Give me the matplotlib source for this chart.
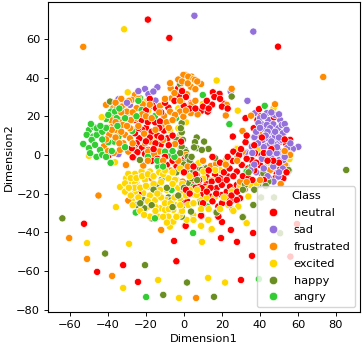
import numpy as np
import matplotlib
matplotlib.use('Agg')
import matplotlib.pyplot as plt
from matplotlib.lines import Line2D

# puntos leidos a ojo de la figura, (dim1, dim2) por clase
neutral = [(-19,70),(-7.7,60.5),(49.5,56),(-52.6,-35.6),(-32,-57),(-45.7,-60.5),(-24.2,-65.7),(-5.2,-44.5),(-4,-55),
    (30,-64.7),(35.8,-52.2),(19.5,-43),(27.9,-45),(24.7,-38.8),(36.4,-40.4),(0.6,-36.7),(9,-31.6),(18,-32),(20,-34.7),
    (59.5,-35.7),(56,-52.6),
    (-25.8,18.1),(-22.3,18.1),(-15.2,16.9),(-10.5,12.6),(-8.7,8.6),(-23.5,8.6),(-24.9,6),(-22.3,3.5),(-18.7,2.6),
    (-25.8,3.8),(-12.3,5.2),(-2.6,31),(-3,34.5),(-8.2,24.5),(-16.5,25.5),(-0.3,25.9),(-25.8,11.2),(-14.7,24.1),
    (-20.5,0.9),(-24.5,1.4),(-12.6,17.3),(-27.5,3.5),
    (39.5,23.7),(47.3,19.5),(38.7,18.1),(36.7,13.8),(32.4,19),(25.7,9.5),(32.4,6.6),(55.9,7.8),(50.6,6.9),(53.8,5.7),
    (43.8,4.7),(37.4,0.9),(40.6,-0.8),(44.1,-0.8),(25.7,-3.1),(35.7,-6),(30.6,-5.1),(47.6,-7.7),(15.2,32.4),(18.3,31.1),
    (9,22.8),(12.5,22.4),(14.8,26),(21.3,26.4),(-0.1,25.4),(3.8,26.7),(0.3,-1.7),(2.9,-2.2),(-1.5,6.9),(11.7,-6.9),
    (18.7,31.6),(40.2,19.9),(-26.6,-1.3),(-9.1,-5.1),(-4.2,-6.5),(-39.8,-0.3),
    (-24,-20.3),(-0.3,-25),(1.8,-24.1),(0.9,-36.7),(9.3,-31.5),(5.8,-14.1),(-3.9,-6),(7.5,-14.7),(9.3,-17.8),(12,-14.7),
    (-9.1,-5.2),(12,-11.5),(-27,-1.2),(-20.5,0.5),(0.5,-1.7),(3.2,-2.2),
    (11.1,-6.9),(19,-12.1),(23.4,-11.2),(20.7,-13.8),(16.4,-10.3),(11.1,-16.4),(9.3,-20.7),(19.9,-20.7),(17.2,-17.2),
    (14.1,-21.6),(22.5,-19),(24.2,-16.4),(27.8,-8.6),(30.4,-5.2),(46.2,-7.8),(48.8,-9.5),(50.6,-7.4),(26,1.7),(35.6,-2.6),
    (40.9,0),(44.4,-0.9),(52.3,-12.1),(9,-31.4),(18.1,-31.9),(29.5,-22.4),(26,-23.3),(27.8,-23.3),(18.1,-26.7),(47.9,-12.1),
    (40.9,-9.5),(40,-5.2),(33.9,-6.9),(9.3,-17.2),(44.4,-8.6),(19.9,-15.5),(14.6,-13.8),(22.5,-12.9),(27.8,-15.5),(18.1,-12.9),
    (-20,14),(-17,12),(-22,13),(-18,9),(-14,10),(-20,7),(-15,6),(-12,9),(-16,3),(-24,14),(-19,17),(-13,14),(-8,5),(-6,10),
    (-10,-1),(-14,-2),(-17,-3),(-6,-3),(-10,27),(-12,22),(-18,29),(-20,23),(-5,28),(1,30),(-1,33),(3,24),(6,24),(10,25),
    (13,24),(16,30),(19,29),(20,25),(23,24),(12,28),(6,-10),(8,-13),(13,-8),(14,-17),(17,-20),(21,-9),(24,-7),(26,-11),
    (15,-24),(22,-22),(25,-21),(24,-25),(12,-19),(6,-17),(10,-25),(20,-25),(28,-19),(31,-11),(34,-12),(37,-8),(38,-4),
    (33,-2),(29,0),(23,-1),(19,-4),(15,-1),(36,-13),(42,1),(46,3),(41,9),(37,5),(33,10),(30,3),(53,8),(50,-4),(47,-3),
    (54,-9),(42,-13),(44,-3),(1,-18),(3,-20),(0,-9),(5,-6)]
sad = [(5.5,72),(36.5,63.8),(-20.5,34.1),(-14,35),(-18.7,31.4),(-15,28.1),(-34.5,28.8),(-28.4,25.9),(-34.5,0.4),(-16.1,32.8),
    (24.6,32.8),(33.4,28),(37.4,21.6),(40.9,15.9),(44.4,18.1),(47,15.9),(50.6,18.1),(43.6,21.6),(41.8,12.9),(46.2,11.2),
    (49.7,13.8),(52.3,11.2),(36.9,9),(41.5,7.8),(48.8,6),(54.1,3.5),(45,5.2),(35.7,4.3),(31.6,1.4),(47.6,1.4),(51.5,0),
    (43.6,15.5),(47.9,20.7),(51.5,15.5),(40,19),(39.2,16.4),(45.3,13.8),(47.9,9.5),(51.5,7.8),(44.4,8.6),(49.7,2.6),
    (60.2,4.2),(57.3,3.1),(54.3,3.5),(49.4,0.9),(47.6,5.2),(32.7,1.4),(37.1,9.2),(52,11.2),(50.2,-2.6),(45.9,-7.7),(43.2,-2.6),
    (32.1,1.2),(38.3,-14.7),(40.9,-12.1),(42.7,-6.9),(46.2,-1.7),(48.8,0.9),(44.4,-4.3),(49.7,-11.2),(40,-15.5),(52.3,-2.6),
    (42.7,-10.3),(47.1,-13.8),
    (38,12),(42,20),(46,22),(50,21),(53,16),(54,13),(44,12),(48,12),(50,9),(46,7),(42,4),(39,6),(36,1),(41,-2),(47,-6),(52,-7),
    (50,-9),(44,-11),(38,-9),(40,14),(43,10),(56,6),(53,-1),(49,4),(45,1),(37,-5),(35,-8),(42,-7),(-24,33),(-30,27)]
frustrated = [(-53,55.9),(73.3,40.3),(-45,-21),(-60.4,-43),(-51,-53.8),(-37.8,-62.6),(-12,-38.8),(6.4,-74),
    (-41,25.9),(-37.2,24.2),(-31,26.2),(-25.8,31),(-32.8,25),(-37.5,20.4),(-34.5,21.2),(-37.2,15.5),(-38.6,18.1),(-33.7,18.1),
    (-31,10.4),(-39.3,10.4),(-28.4,8.6),(-26.6,13),(-42,4.7),(-33.1,2.9),(-29.3,1.7),(-25.8,2.6),(-17.9,6.9),(-11.7,15.5),
    (-10.5,20.2),(-12.6,25.4),(-7.3,22.4),(-7,34.5),(-7.3,37.1),(0.6,41.4),(4,40.5),(1.8,31.4),(-6.5,29.3),(-21.7,26.2),
    (-35.4,25),(-24.9,24.2),(-28.4,13.8),(-32.2,15.5),(-36.3,12.9),(-25.8,19),(-30.1,22.4),(-9.1,16.9),(-10.9,7.8),(-31.9,6),
    (-20.5,6),(-2.1,22.4),(-4.7,20.7),(-27.5,28.5),
    (-0.3,41.4),(2.3,40.5),(5,39.3),(9,36.7),(3.6,35.3),(1.5,31.4),(4.1,26.2),(3.6,21.6),(-0.3,19.8),(22,20.4),(22.5,25.9),
    (25.1,34.2),(30.8,12.4),(35.3,20.3),(39.7,10.7),(47.9,26.2),(-1.2,33.6),(5.8,38.8),(7.2,21),
    (56,0.4),(53.8,-5.5),(35.9,-2.6),(14.3,-5.7),(18.7,-4.3),(1.1,0),(-30.5,-5),(-21.4,-5.5),(-6.8,-8.1),(-33.7,2.6),(-18.8,1.8),
    (-13,1.8),(-4.7,5.6),(-17,-12.1),(-30.5,-5.2),(-0.7,-13.8),(-15.8,0.5),(-29.3,-23.6),
    (14.1,-5.7),(16.9,-4.8),(26,-18.4),(35.6,-16),(30.9,1.7),(50.9,-15),(53.2,-5.2),(55.8,0),(50.2,-4.3),(45.3,-7.8),(42.7,-15.5),
    (32.1,-17.8),(29.5,-13.8),
    (-40,14),(-36,17),(-33,22),(-28,18),(-30,15),(-33,12),(-38,13),(-41,8),(-36,9),(-27,6),(-34,6),(-37,1),(-40,2),(-29,28),
    (-33,29),(-36,27),(-24,29),(-22,21),(-20,20),(-18,26),(-27,22),(-24,15),(-21,11),(-15,13),(-17,19),(-13,22),(-10,29),
    (-8,14),(-6,18),(-3,39),(-1,38),(2,37),(7,38),(6,34),(-5,32),(-2,28),(1,23),(6,28),(-19,-3),(-11,-3),(-3,-3),(2,-6),
    (10,-3),(22,-5),(33,-14),(28,-3),(53,2),(40,-13)]
excited = [(-31.5,65),(-33.6,-16.6),(-35.8,-27),(-51,-45.6),(-28.9,-46),(-13.6,-64.7),(-32,-68.8),(-2.6,-74),(-7.3,-37.2),
    (12.7,-63.6),(21.6,-66),(9.5,-45),(14.3,-38.8),(9,-36.7),(13.2,-33.6),(32.7,-35),
    (-29.6,32.4),(-20,27.6),(-18.7,22.9),(-29.6,21.6),(-7.3,12.9),(-3,24.1),(-14,8.3),(-5,6),(-20.8,12.4),(-43.3,19.5),(-2.1,10.4),
    (-3,13.8),(17.2,38.5),(9.9,26.4),(28.3,22.9),(1.1,16.9),(27.8,3.5),(39.2,3.1),(47.1,24.1),(-1.2,27.6),
    (22.2,-2.6),(28,3.1),(46.7,-4.3),(55.5,-2.2),(7.6,-4.3),(19.2,-7.7),(-50,-0.5),(-36.3,-3.8),(-18.4,-1.7),(-5.1,-4.3),
    (-30.5,-12.1),(-25.8,-9.8),(-22.3,-8.6),(-28.4,-14.7),(-24.9,-14.7),(-20.5,-12.9),(-27.5,-23.3),(-21.4,-19.8),(-16.1,-19.8),
    (-24,-26.7),(-20.5,-28.1),(-12.6,-27.6),(-8.2,-31.9),(-5.6,-28.4),(-7.4,-37.1),(-15.2,-23.3),(-8.2,-12.1),(-3.9,-12.9),
    (-0.3,-9.1),(-1.2,-19),(-2.1,-22.4),(5.8,-20.7),(4.9,-31),(1.4,-33.6),(-17.9,-8.6),(-29.3,-9.8),(-25.8,-14.7),(-31,-14.7),
    (-24,-16.4),(-18.8,-26.7),(-10,-28.4),(-4.7,-25.9),(-4.7,-12.9),(-9.1,-18.1),(2.3,-25.9),(-18.8,-1.7),(12.3,-21.5),(8.4,-23.3),
    (-9.1,-23.3),(-25.8,-19.8),(-18.8,-16.4),(-12.6,-18.1),(-17.9,-31.9),(-13.5,-31.9),(-2.1,-31),(-5.6,-34.5),(-31,-19),
    (7.6,-4.3),(19,-7.8),(22.1,-2.6),(10.2,-12.1),(14.6,-12.9),(12.8,-17.2),(6.7,-20.7),(5,-25),(16.4,-21.6),(12,-22.4),
    (23.4,-25.9),(28.6,-26.7),(32.1,-12.1),(33.9,-21.5),(29.5,-16.4),(45.3,-4.3),(25.1,-19),(12.8,-33.6),(14.6,-38.4),(9,-36.7),
    (5,-33.6),(33,-35.3),(34.8,-15.5),(16.4,-7.8),(10.2,-8.6),(38.3,-14.7),
    (-28,-12),(-25,-12),(-22,-11),(-19,-10),(-16,-11),(-13,-9),(-11,-10),(-26,-17),(-23,-17),(-20,-16),(-16,-15),(-29,-17),
    (-28,-21),(-24,-22),(-18,-21),(-15,-27),(-19,-24),(-12,-22),(-14,-20),(-10,-25),(-7,-25),(-8,-28),(-5,-22),(-3,-17),(-6,-15),
    (-1,-15),(-27,-26),(-23,-29),(-21,-31),(-15,-29),(-11,-32),(-9,-35),(-4,-32),(-1,-29),(-2,-26),(1,-21),(3,-18),(-12,-14),
    (-10,-8),(-6,-9),(-2,-7),(3,-11),(7,-18),(13,-28),(19,-28),(26,-29),(9,-28),(21,-22)]
happy = [(85.4,-7.8),(-64,-32.8),(-41.5,-51),(-20.5,-57),(-10.9,-72.4),(1.6,-66),(15.8,-73.4),(31,-32),(17,-29.5),(40.6,-22),
    (47.4,-22),(50.6,-40.5),(-38.9,27.6),(-2.1,36.7),(-33.7,13.5),(-15.2,5.2),(-1.2,15.9),(-1.2,11.7),(-3.8,7.8),(-1.6,3.5),(0.6,2.6),
    (-2,36.6),(25.1,30.2),(7.1,21),(-1.2,16.4),(-1.7,13.8),(6.7,9),(10.6,6.9),(5.8,6.6),(6.7,3.5),(12.9,3.1),(9.4,2.6),(5.3,3.9),
    (-0.6,7.8),(-1.2,4.3),(1.1,1.4),(28.7,-0.8),(16.4,-4.8),(3.8,-7.2),(55.2,-8.1),(-23.1,-2.6),(-13.8,-6),(-3.8,-0.8),
    (-25.8,-20.3),(-21.4,-23.3),(-17,-32.8),(-20.9,-27.6),(-14.4,-15.5),(-11.8,-12.9),(-8.2,-22),(-1.2,-31.9),(-13.5,-6),(-1.2,-27.6),
    (-23.2,-2.6),(2.3,-14.7),(3.2,-7.2),(7.5,-7.8),(9.3,-7.8),(4.9,-25),(-6.5,-23.3),(11.9,-6.9),(-24.9,-25.9),
    (28.3,-0.9),(9,-25),(25.6,-28.4),(30.9,-32.2),(36.5,-25.9),(40.9,-14.7),(44.8,-12.1),(44.4,-13.8),(35.6,-6),(16.4,-1.7),(5,-8.6),
    (4.1,-5.2),(4.1,-12.1),(6.7,-10.3),(32.1,-15.5),(17.2,-29.8),(3.7,-29.3),(55,-7.8),(41.8,-9.5),
    (-16,-18),(-13,-21),(-9,-17),(-17,-26),(-23,-25),(-6,-27),(-3,-21),(0,-17),(-4,-9),(-1,-4),(1,-9),(7,-13),(2,-1),(0,-5),(-2,1),
    (3,-3),(4,-1),(34,-9),(37,-18),(43,-16),(31,-18)]
angry = [(-19.9,-73.5),(4.8,-40.4),(39.4,-64.2),(-53,5.7),(-50,12.9),(-51.2,10.4),(-50,3.5),(-47.3,14.3),(-47.7,9.5),(-45.9,10.4),
    (-41,18.6),(-38.4,22.4),(-23.1,29.3),(-15.2,20.2),(-4.2,19),(-27.2,12.4),(-36.8,6.9),(-39.8,6.6),(-49.4,0.9),(-44.2,2.6),(-34.5,9.5),
    (-9.4,2.1),(-22.3,23.3),(-12.6,2.1),(-36.3,22.4),(-39.8,20.7),(-48.6,7.8),(-45.9,13.8),(-35.4,19),(-46.8,5.2),
    (9.9,31),(23.9,15.9),(42.5,25.4),(43.6,11.2),(39.4,-4.8),(23.1,-6.5),(32.7,-8.6),(-38.6,-4.1),(-13.5,-6),(-15.2,-2.6),(-9.6,1.8),
    (-7.3,-0.8),(-25.4,-29.8),(-6.5,-18.1),(-15.3,-32.8),(-7.4,-0.5),(-10,1.7),(23,-6.9),(33,-8.6),(5,-16.4),(12.3,-26.7),
    (-49,16),(-43,12),(-43,8),(-41,14),(-44,15),(-46,-1),(-43,0),(-38,2),(-35,15),(-31,19),(-34,24),(-41,-1),(-31,4),(-19,-1),
    (-14,-3),(-24,28),(-25,20),(-11,-6),(-5,-1),(-6,2)]

clases = ['neutral', 'sad', 'frustrated', 'excited', 'happy', 'angry']
colores = ['#ff0000', '#9370db', '#ff8c00', '#ffd700', '#6b8e23', '#32cd32']
grupos = [neutral, sad, frustrated, excited, happy, angry]

# intercalar las clases para que queden mezcladas como en el original
pts, cols, orden = [], [], []
for g, c in zip(grupos, colores):
    for i, p in enumerate(g):
        pts.append(p)
        cols.append(c)
        orden.append((i + 0.5) / len(g))
idx = np.argsort(orden, kind='stable')
pts = np.array(pts)[idx]
cols = np.array(cols)[idx]

fig = plt.figure(figsize=(3.63, 3.46), dpi=100)
ax = fig.add_axes([48.3 / 363, (346 - 312.3) / 346, 312 / 363, 310.3 / 346])
fs = 8.2
ax.scatter(pts[:, 0], pts[:, 1], c=list(cols), s=27, edgecolors='white', linewidths=0.5)
ax.set_xlim(-71.4, 92.8)
ax.set_ylim(-81.4, 79.1)
ax.set_xticks(np.arange(-60, 81, 20))
ax.set_yticks(np.arange(-80, 61, 20))
ax.tick_params(labelsize=fs, length=2.9, width=0.66, pad=2.9)
ax.set_xlabel('Dimension1', fontsize=fs, labelpad=2.5)
ax.set_ylabel('Dimension2', fontsize=fs, labelpad=1.5)
for s in ax.spines.values():
    s.set_linewidth(0.8)

handles = [Line2D([], [], ls='none', label='Class')]
for n, c in zip(clases, colores):
    handles.append(Line2D([], [], ls='none', marker='o', ms=6, color=c, mec='white', mew=0.4, label=n))
leg = ax.legend(handles=handles, loc='lower right', fontsize=fs, framealpha=0.8, labelspacing=0.61,
                bbox_to_anchor=(0.983, 0.017), borderaxespad=0, borderpad=0.4, handletextpad=0.84, handlelength=2)
leg.get_texts()[0].set_position((-2.3, 0))

fig.savefig('out.png', dpi=100)
